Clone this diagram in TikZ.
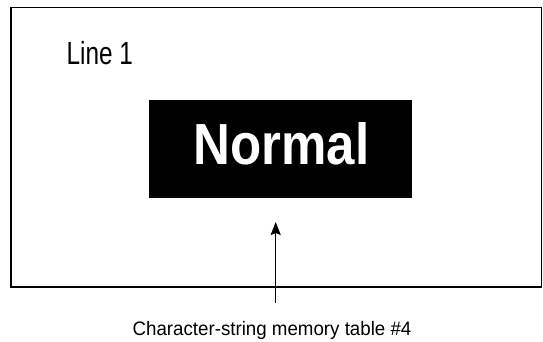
\documentclass[tikz,border=0pt]{standalone}
\usepackage{fontspec}
\setmainfont{Liberation Sans}
\usetikzlibrary{arrows.meta}
\begin{document}
\begin{tikzpicture}[x=1pt,y=-1pt,
  frame/.style={draw=black,line width=1.5pt},
  plate/.style={fill=black,draw=none},
  arr/.style={line width=1.4pt,-{Stealth[length=13pt,width=10pt,inset=2pt]}},
  lbl/.style={inner sep=0pt,anchor=base west}]
\useasboundingbox (0,0) rectangle (543,342);
\draw[frame] (11,7.5) rectangle (541.5,287);
\fill[plate] (149,100) rectangle (412,198);
\node[inner sep=0pt] (plate) at (280.5,149) {};
\node[lbl] (line1) at (66.5,65) {\fontsize{32}{32}\selectfont\scalebox{0.76}[1]{Line 1}};
\node[inner sep=0pt,anchor=base,text=white] (normal) at (281.5,164) {\fontsize{58}{58}\selectfont\bfseries\scalebox{0.88}[1]{Normal}};
\node[inner sep=0pt,anchor=base] (cap) at (272,335) {\fontsize{19.5}{19.5}\selectfont\scalebox{0.96}[1]{Character-string memory table \#4}};
\coordinate (tail) at (275.7,303);
\coordinate (tip) at (275.7,222);
\draw[arr] (tail) -- (tip);
\end{tikzpicture}
\end{document}
